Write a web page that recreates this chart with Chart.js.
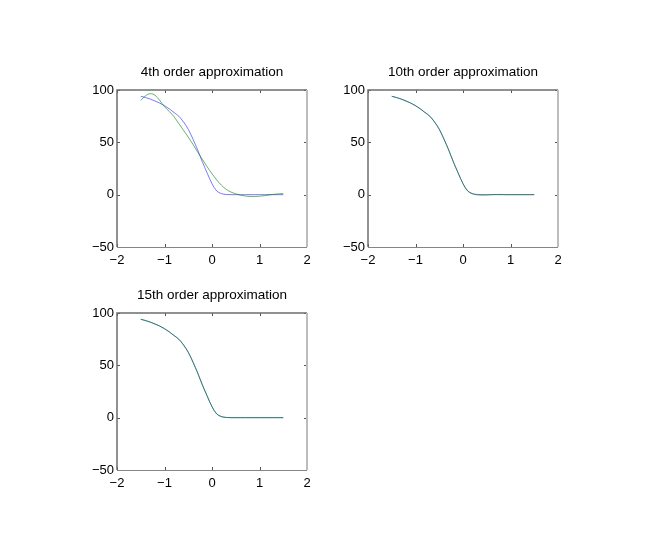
<!DOCTYPE html>
<html>
<head>
    <title>Polynomial approximations</title>
    <meta charset="utf-8">
    <script src="https://cdn.jsdelivr.net/npm/chart.js"></script>
    <style>
        body { margin: 0; background: #fff; }
        .wrap { position: relative; width: 654px; height: 545px; }
        .wrap canvas { position: absolute; left: 0; top: 0; }
    </style>
</head>
<body>
<div class="wrap">
    <canvas id="c1" width="654" height="545"></canvas>
    <canvas id="c2" width="654" height="545"></canvas>
    <canvas id="c3" width="654" height="545"></canvas>
</div>
<script>
// x samples shared by every curve
var xs = [-1.5, -1.4, -1.3, -1.2, -1.1, -1.0, -0.9, -0.8, -0.7, -0.6, -0.5, -0.4, -0.3, -0.2, -0.1,
          0.0, 0.1, 0.2, 0.3, 0.4, 0.5, 0.6, 0.7, 0.8, 0.9, 1.0, 1.1, 1.2, 1.3, 1.4, 1.5];

// blue: the function being approximated
var exact = [94, 92.8, 91.3, 89.5, 87.5, 85, 82, 78.5, 75, 69.5, 62.5, 53, 42.5, 31, 20.5,
             10.5, 3.5, 1, 0.2, 0, 0, 0, 0, 0, 0, 0, 0, 0, 0, 0, 0];

// green: approximations
var order4 = [90, 94.5, 96.5, 95, 90, 84, 79.5, 74.5, 68, 61.5, 55, 48, 40.5, 33.5, 26.5,
              20, 14, 9, 5, 2.5, 0.8, -0.5, -1.3, -1.7, -1.7, -1.5, -1, -0.3, 0.3, 0.8, 1];
var order10 = [94, 92.8, 91.3, 89.5, 87.5, 85, 82, 78.5, 75, 69.5, 62.5, 53, 42.5, 31, 20.5,
               10.5, 3.5, 0.8, -0.2, -0.4, -0.3, 0, 0.2, 0.2, 0, 0, 0, 0, 0, 0, 0];
var order15 = [94, 92.8, 91.3, 89.5, 87.5, 85, 82, 78.5, 75, 69.5, 62.5, 53, 42.5, 31, 20.5,
               10.5, 3.5, 1, 0.2, 0, 0, 0, 0, 0, 0, 0, 0, 0, 0, 0, 0];

var xTicks = [-2, -1, 0, 1, 2];
var yTicks = [-50, 0, 50, 100];

function pts(ys) {
    return xs.map(function(x, i) { return { x: x, y: ys[i] }; });
}

function label(v) {
    return v < 0 ? '\u2212' + Math.abs(v) : String(v);
}

// MATLAB style box with ticks pointing inward, title centred over the box
var boxPlugin = {
    id: 'box',
    afterDraw: function(chart, args, opts) {
        var a = chart.chartArea, ctx = chart.ctx;
        var sx = chart.scales.x, sy = chart.scales.y;
        ctx.save();
        ctx.lineWidth = 1;
        ctx.strokeStyle = '#555';
        xTicks.forEach(function(v) {
            var px = Math.round(sx.getPixelForValue(v)) + 0.5;
            ctx.beginPath();
            ctx.moveTo(px, a.bottom); ctx.lineTo(px, a.bottom - 3);
            ctx.moveTo(px, a.top); ctx.lineTo(px, a.top + 3);
            ctx.stroke();
        });
        yTicks.forEach(function(v) {
            var py = Math.round(sy.getPixelForValue(v)) + 0.5;
            ctx.beginPath();
            ctx.moveTo(a.left, py); ctx.lineTo(a.left + 3, py);
            ctx.moveTo(a.right, py); ctx.lineTo(a.right - 3, py);
            ctx.stroke();
        });
        ctx.lineWidth = 1.5;
        ctx.strokeStyle = '#6e6e6e';
        ctx.beginPath();
        ctx.moveTo(a.left, a.bottom); ctx.lineTo(a.left, a.top); ctx.lineTo(a.right, a.top);
        ctx.stroke();
        ctx.strokeStyle = '#858585';
        ctx.lineWidth = 1;
        ctx.beginPath();
        ctx.moveTo(a.left, a.bottom + 0.5); ctx.lineTo(a.right, a.bottom + 0.5);
        ctx.stroke();
        ctx.strokeStyle = '#bdbdbd';
        ctx.lineWidth = 2;
        ctx.beginPath();
        ctx.moveTo(a.right, a.top); ctx.lineTo(a.right, a.bottom);
        ctx.stroke();

        ctx.fillStyle = '#000';
        ctx.font = '13.5px "Liberation Sans", Arial, sans-serif';
        ctx.textAlign = 'center';
        ctx.textBaseline = 'alphabetic';
        ctx.fillText(opts.text, (a.left + a.right) / 2, a.top - 14);
        ctx.restore();
    }
};

function makeChart(id, title, approx, pad) {
    return new Chart(document.getElementById(id), {
        type: 'scatter',
        data: {
            datasets: [
                {
                    data: pts(approx),
                    showLine: true,
                    borderColor: 'rgba(0, 128, 0, 0.6)',
                    borderWidth: 1,
                    pointRadius: 0,
                    tension: 0.35
                },
                {
                    data: pts(exact),
                    showLine: true,
                    borderColor: 'rgba(50, 50, 255, 0.65)',
                    borderWidth: 1,
                    pointRadius: 0,
                    tension: 0.35
                }
            ]
        },
        options: {
            responsive: false,
            animation: false,
            devicePixelRatio: 1,
            layout: { padding: pad },
            plugins: {
                legend: { display: false },
                tooltip: { enabled: false },
                title: { display: false },
                box: { text: title }
            },
            scales: {
                x: {
                    type: 'linear',
                    min: -2, max: 2,
                    grid: { display: false, drawTicks: false },
                    border: { display: false },
                    afterFit: function(s) { s.height = 20; },
                    afterBuildTicks: function(s) { s.ticks = xTicks.map(function(v) { return { value: v }; }); },
                    ticks: {
                        padding: 6,
                        color: '#000',
                        maxRotation: 0,
                        font: { family: 'Liberation Sans, Arial, sans-serif', size: 13 },
                        callback: label
                    }
                },
                y: {
                    min: -50, max: 100,
                    grid: { display: false, drawTicks: false },
                    border: { display: false },
                    afterFit: function(s) { s.width = 30; },
                    afterBuildTicks: function(s) { s.ticks = yTicks.map(function(v) { return { value: v }; }); },
                    ticks: {
                        padding: 3,
                        color: '#000',
                        font: { family: 'Liberation Sans, Arial, sans-serif', size: 13 },
                        callback: label
                    }
                }
            }
        },
        plugins: [boxPlugin]
    });
}

makeChart('c1', '4th order approximation', order4, { left: 87, right: 347, top: 90, bottom: 278 });
makeChart('c2', '10th order approximation', order10, { left: 338, right: 96, top: 90, bottom: 278 });
makeChart('c3', '15th order approximation', order15, { left: 87, right: 347, top: 313, bottom: 55 });
</script>
</body>
</html>
